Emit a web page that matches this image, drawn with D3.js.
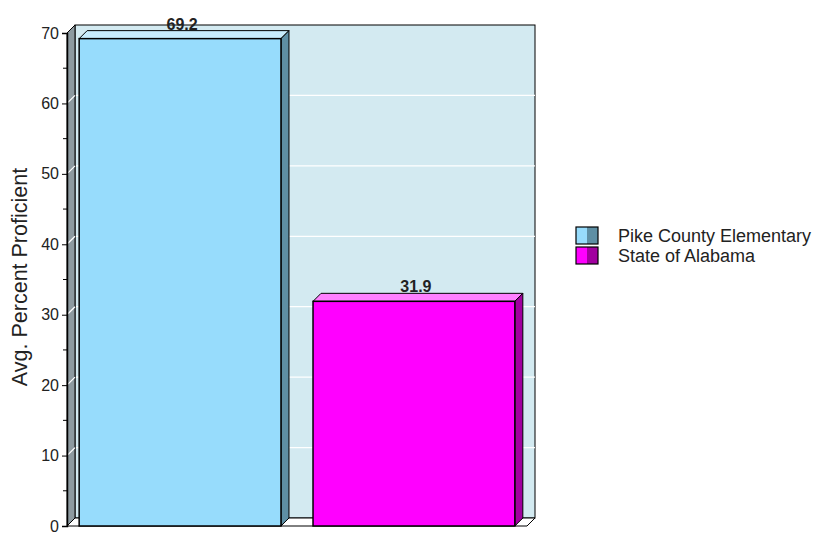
<!DOCTYPE html>
<html>
<head>
<meta charset="utf-8">
<script src="https://cdn.jsdelivr.net/npm/d3@7"></script>
<style>
  body { margin: 0; background: #fff; }
  text { font-family: Arial, "Liberation Sans", sans-serif; }
</style>
</head>
<body>
<svg id="chart" width="814" height="533"></svg>
<script>
const categories = ['Pike County Elementary', 'State of Alabama']
const values = [69.2, 31.9]
const yTicks = [0, 10, 20, 30, 40, 50, 60, 70]
const frontColors = ['#97dcfc', '#ff00ff']
const sideColors = ['#5e8fa4', '#a1009f']
const topColors = ['#c8ecfc', '#ff80ff']

const svg = d3.select('#chart')
const depth = { dx: 8, dy: -8 }
const pLeft = 67, pRight = 527, pTop = 33, pBottom = 526

const y = d3.scaleLinear().domain([0, 70]).range([pBottom, pTop])
const x = d3.scaleBand()
  .domain(categories)
  .range([pLeft, pRight])
  .paddingInner(0.137)
  .paddingOuter(0.052)

const pts = p => p.map(d => d.join(',')).join(' ')

// back wall
svg.append('rect')
  .attr('x', pLeft + depth.dx).attr('y', pTop + depth.dy)
  .attr('width', pRight - pLeft).attr('height', pBottom - pTop)
  .attr('fill', '#d3eaf1').attr('stroke', '#000').attr('stroke-width', 1)

// left wall
svg.append('polygon')
  .attr('points', pts([[pLeft, pTop], [pLeft + depth.dx, pTop + depth.dy],
    [pLeft + depth.dx, pBottom + depth.dy], [pLeft, pBottom]]))
  .attr('fill', '#8d9aa0').attr('stroke', '#000').attr('stroke-width', 1)

// floor
svg.append('polygon')
  .attr('points', pts([[pLeft, pBottom], [pLeft + depth.dx, pBottom + depth.dy],
    [pRight + depth.dx, pBottom + depth.dy], [pRight, pBottom]]))
  .attr('fill', '#fff').attr('stroke', '#000').attr('stroke-width', 1)

// grid lines
const grid = yTicks.filter(t => t > 0 && t < 70)
svg.append('g').selectAll('line')
  .data(grid).join('line')
  .attr('x1', pLeft + depth.dx + 1).attr('x2', pRight + depth.dx)
  .attr('y1', d => y(d) + depth.dy).attr('y2', d => y(d) + depth.dy)
  .attr('stroke', '#fff').attr('stroke-width', 1.2)
svg.append('g').selectAll('line')
  .data(grid).join('line')
  .attr('x1', pLeft + 1).attr('x2', pLeft + depth.dx)
  .attr('y1', d => y(d) - 1).attr('y2', d => y(d) + depth.dy)
  .attr('stroke', '#fff').attr('stroke-width', 1.2)

// bars
const bars = svg.append('g').selectAll('g')
  .data(categories.map((c, i) => ({ c, v: values[i], i })))
  .join('g')

bars.append('polygon') // top face
  .attr('points', d => {
    const x0 = x(d.c), x1 = x0 + x.bandwidth(), yt = y(d.v)
    return pts([[x0, yt], [x0 + depth.dx, yt + depth.dy], [x1 + depth.dx, yt + depth.dy], [x1, yt]])
  })
  .attr('fill', d => topColors[d.i]).attr('stroke', '#000').attr('stroke-width', 1)

bars.append('polygon') // side face
  .attr('points', d => {
    const x1 = x(d.c) + x.bandwidth(), yt = y(d.v)
    return pts([[x1, yt], [x1 + depth.dx, yt + depth.dy], [x1 + depth.dx, pBottom + depth.dy], [x1, pBottom]])
  })
  .attr('fill', d => sideColors[d.i]).attr('stroke', '#000').attr('stroke-width', 1)

bars.append('rect') // front face
  .attr('x', d => x(d.c)).attr('y', d => y(d.v))
  .attr('width', x.bandwidth()).attr('height', d => pBottom - y(d.v))
  .attr('fill', d => frontColors[d.i]).attr('stroke', '#000').attr('stroke-width', 1.5)

bars.append('text')
  .attr('x', d => x(d.c) + x.bandwidth() / 2 + depth.dx / 2 - 2)
  .attr('y', d => y(d.v) + depth.dy - 1)
  .attr('text-anchor', 'middle')
  .attr('font-size', 16).attr('font-weight', 'bold').attr('fill', '#222')
  .text(d => d.v.toFixed(1))

// y axis
const axis = svg.append('g')
  .attr('transform', `translate(${pLeft},0)`)
  .call(d3.axisLeft(y).tickValues(yTicks).tickSize(5).tickPadding(3).tickFormat(d3.format('d')))
axis.select('.domain').attr('stroke', '#000').attr('stroke-width', 1.5)
axis.selectAll('text').attr('font-size', 16).attr('fill', '#222')
  .attr('font-family', 'Arial, "Liberation Sans", sans-serif')
axis.selectAll('.minor').data(d3.range(5, 70, 10)).join('line')
  .attr('class', 'minor')
  .attr('x1', -4).attr('x2', 0)
  .attr('y1', d => y(d)).attr('y2', d => y(d))
  .attr('stroke', '#000')

svg.append('text')
  .attr('transform', 'translate(27,277) rotate(-90)')
  .attr('text-anchor', 'middle')
  .attr('font-size', 21.5).attr('fill', '#222')
  .text('Avg. Percent Proficient')

// legend
const legend = svg.append('g').attr('transform', 'translate(576,227)')
const item = legend.selectAll('g').data(categories).join('g')
  .attr('transform', (d, i) => `translate(0,${i * 20})`)
item.append('rect').attr('width', 11).attr('height', 17)
  .attr('fill', (d, i) => frontColors[i])
item.append('rect').attr('x', 11).attr('width', 11).attr('height', 17)
  .attr('fill', (d, i) => sideColors[i])
item.append('rect').attr('width', 22).attr('height', 17)
  .attr('fill', 'none').attr('stroke', '#000').attr('stroke-width', 1.2)
item.append('text')
  .attr('x', 42).attr('y', 15)
  .attr('font-size', 18).attr('fill', '#222')
  .text(d => d)
</script>
</body>
</html>
